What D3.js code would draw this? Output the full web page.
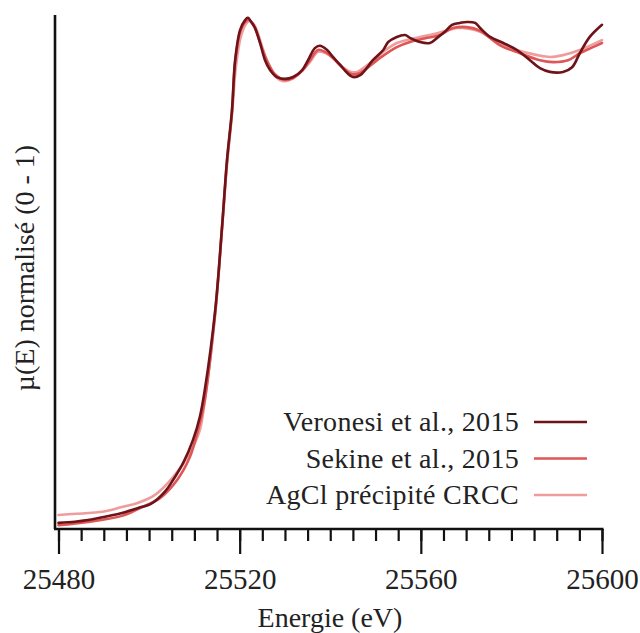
<!DOCTYPE html>
<html><head><meta charset="utf-8">
<script src="https://cdn.jsdelivr.net/npm/d3@7/dist/d3.min.js"></script>
<style>body{margin:0;background:#fff}svg{display:block}text{font-family:"Liberation Serif","DejaVu Serif",serif;fill:#222}</style>
</head><body><svg id="c" width="640" height="633"></svg>
<script>
const seriesNames = ["Veronesi et al., 2015", "Sekine et al., 2015", "AgCl précipité CRCC"];
const seriesColors = ["#6e1418", "#de5656", "#f09c9c"];
const xTickValues = [25480, 25520, 25560, 25600];

const veronesiE = [25480,25483.6,25486.5,25490.3,25494,25497.6,25500.3,25503.5,25505.3,25507.5,25509.7,25511.2,25512.3,25514.6,25516.1,25517.2,25518.3,25519,25520.1,25521.2,25521.8,25522.7,25523.4,25524.5,25525.6,25526.7,25528.2,25530,25531.8,25533.8,25535.1,25536.6,25537.7,25539.3,25540.6,25542.2,25543.7,25545,25546.6,25549.4,25551.7,25552.8,25554.7,25556.5,25557.6,25559.8,25562,25563.6,25565.3,25566.9,25568.6,25570.2,25572,25573.1,25575.3,25578.2,25581.2,25584.1,25586.3,25588.5,25591.4,25593.4,25595.1,25597.3,25600];
const veronesiMu = [0.011,0.0135,0.017,0.024,0.032,0.043,0.051,0.078,0.103,0.139,0.189,0.238,0.296,0.467,0.645,0.789,0.896,1.003,1.068,1.089,1.094,1.083,1.072,1.04,1.003,0.982,0.967,0.963,0.967,0.982,1.003,1.029,1.034,1.025,1.01,0.993,0.976,0.967,0.971,1.003,1.025,1.042,1.053,1.057,1.051,1.042,1.04,1.051,1.064,1.079,1.083,1.085,1.083,1.072,1.053,1.04,1.025,1.003,0.986,0.978,0.978,0.988,1.018,1.053,1.079];

const sekineE = [25480,25486.5,25494,25498,25502.4,25506.2,25509,25510.8,25512.3,25514.6,25516.1,25517.2,25518.3,25519,25520.1,25521.2,25522.1,25523,25523.8,25524.9,25526.3,25527.8,25529.8,25531.8,25533.8,25535.5,25537.3,25538.8,25540.6,25542.6,25544.8,25546.6,25551,25554.7,25557.6,25561.4,25564.2,25567.1,25570.2,25573.1,25577.5,25581.9,25586.3,25589.2,25592.5,25595.1,25598,25600];
const sekineMu = [0.006,0.013,0.026,0.043,0.064,0.103,0.152,0.21,0.274,0.463,0.643,0.785,0.892,0.999,1.064,1.085,1.089,1.079,1.061,1.029,0.997,0.973,0.961,0.965,0.98,1.003,1.025,1.021,1.008,0.988,0.973,0.976,1.008,1.031,1.042,1.051,1.057,1.072,1.074,1.066,1.035,1.018,1.003,0.999,1.003,1.018,1.031,1.04];

const agclE = [25480,25486.5,25490.3,25494,25497.6,25501.3,25505.3,25509,25511.2,25512.3,25514.6,25516.1,25517.2,25518.3,25519.2,25520.3,25521.4,25522.3,25523.2,25524.1,25525.2,25526.5,25528,25529.6,25531.6,25533.5,25535.5,25537.3,25539.1,25540.8,25542.8,25544.6,25545.9,25548.8,25551.7,25554.7,25559.2,25563.6,25568,25569.3,25573.1,25576.8,25581.2,25585.7,25588.5,25591.4,25595.1,25600];
const agclMu = [0.028,0.032,0.036,0.045,0.054,0.071,0.109,0.161,0.21,0.274,0.457,0.639,0.778,0.886,0.991,1.055,1.081,1.087,1.079,1.059,1.025,0.991,0.967,0.958,0.963,0.978,0.999,1.021,1.018,1.006,0.988,0.978,0.978,0.997,1.021,1.04,1.051,1.061,1.072,1.072,1.064,1.042,1.025,1.014,1.01,1.014,1.025,1.046];

const svg = d3.select("#c");
const x = d3.scaleLinear().domain([25480, 25600]).range([58.5, 602]);
const y = d3.scaleLinear().domain([0, 1.1]).range([528, 15]);

const series = [
  {name: seriesNames[2], color: seriesColors[2], E: agclE, mu: agclMu},
  {name: seriesNames[1], color: seriesColors[1], E: sekineE, mu: sekineMu},
  {name: seriesNames[0], color: seriesColors[0], E: veronesiE, mu: veronesiMu}
];
const line = d3.line().x(d => x(d[0])).y(d => y(d[1])).curve(d3.curveCatmullRom.alpha(0.5));
series.forEach(s => {
  svg.append("path").attr("d", line(s.E.map((e, i) => [e, s.mu[i]])))
    .attr("fill", "none").attr("stroke", s.color).attr("stroke-width", 2.6)
    .attr("stroke-linejoin", "round").attr("stroke-linecap", "round");
});

// x axis
const axisY = 529;
const gx = svg.append("g").attr("transform", `translate(0,${axisY})`);
gx.call(d3.axisBottom(x).tickValues(d3.range(25480, 25601, 5)).tickSize(12).tickFormat(""));
gx.call(g => g.selectAll(".tick line").attr("stroke", "#111").attr("stroke-width", 2.2));
gx.call(g => g.select(".domain").remove());
const gx2 = svg.append("g").attr("transform", `translate(0,${axisY})`);
gx2.call(d3.axisBottom(x).tickValues(xTickValues).tickSize(25).tickPadding(14).tickFormat(d3.format("d")));
gx2.select(".domain").remove();
gx2.selectAll(".tick line").attr("stroke", "#111").attr("stroke-width", 2.2);
gx2.selectAll(".tick text").attr("font-size", 29).attr("font-family", "Liberation Serif").attr("fill", "#222");
svg.append("line").attr("x1", 54).attr("x2", 603.5).attr("y1", axisY).attr("y2", axisY).attr("stroke", "#111").attr("stroke-width", 2.6);
// y axis
svg.append("line").attr("x1", 55).attr("x2", 55).attr("y1", 15).attr("y2", axisY).attr("stroke", "#111").attr("stroke-width", 2.6);

svg.append("text").attr("x", 330).attr("y", 627).attr("text-anchor", "middle").attr("font-size", 28).text("Energie (eV)");
svg.append("text").attr("transform", "translate(34,268) rotate(-90)").attr("text-anchor", "middle").attr("font-size", 28).text("µ(E) normalisé (0 - 1)");

// legend
const legendRows = [0, 1, 2];
legendRows.forEach(i => {
  const ly = 422 + i * 36.5;
  svg.append("text").attr("x", 519).attr("y", ly + 9).attr("text-anchor", "end").attr("font-size", 28).attr("letter-spacing", 0.3).text(seriesNames[i]);
  svg.append("line").attr("x1", 534).attr("x2", 587).attr("y1", ly).attr("y2", ly).attr("stroke", seriesColors[i]).attr("stroke-width", 2.6);
});
</script></body></html>
